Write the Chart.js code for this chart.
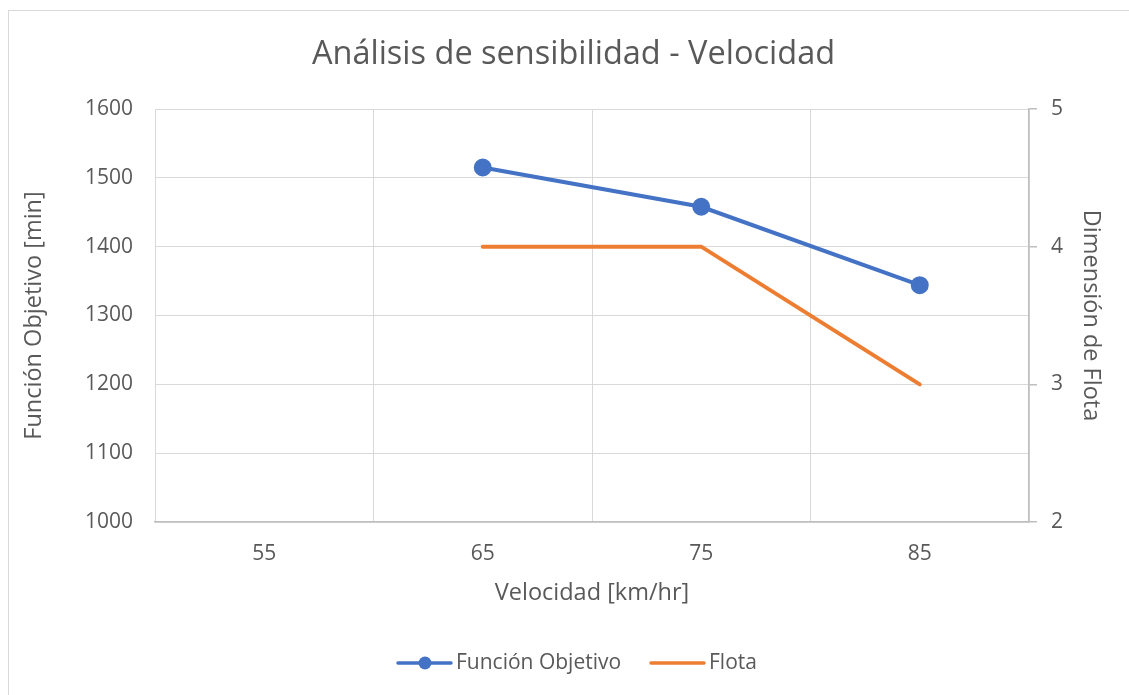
<!DOCTYPE html>
<html>
<head>
<meta charset="utf-8">
<script src="https://cdn.jsdelivr.net/npm/chart.js@4/dist/chart.umd.min.js"></script>
<style>
  html, body { margin: 0; padding: 0; background: #ffffff; }
  #wrap { width: 1129px; height: 695px; position: relative; }
</style>
</head>
<body>
<div id="wrap"><canvas id="c" width="1129" height="695"></canvas></div>
<script>
const categories = ['55', '65', '75', '85'];
const funcionObjetivo = [null, 1515, 1458, 1344];
const flota = [null, 4, 4, 3];
const leftTicks = [1000, 1100, 1200, 1300, 1400, 1500, 1600];
const rightTicks = [2, 3, 4, 5];

const FONT = '"Open Sans", "Noto Sans", sans-serif';
const TXT = '#595959';
const GRID = '#d9d9d9';
const AXIS = '#bfbfbf';
const BLUE = '#4472c4';
const ORANGE = '#ed7d31';

const frame = {
  id: 'frame',
  beforeDraw(chart) {
    const ctx = chart.ctx;
    ctx.save();
    ctx.fillStyle = '#fff';
    ctx.fillRect(0, 0, chart.width, chart.height);
    ctx.strokeStyle = GRID;
    ctx.lineWidth = 1;
    ctx.strokeRect(8.5, 10.5, chart.width + 20, chart.height + 20);
    ctx.restore();
  }
};

const legendPlugin = {
  id: 'customLegend',
  afterDraw(chart) {
    const ctx = chart.ctx;
    const y = 663;
    ctx.save();
    ctx.font = '21px ' + FONT;
    ctx.textBaseline = 'middle';
    const items = [
      { ds: chart.data.datasets[0], x: 398, marker: true },
      { ds: chart.data.datasets[1], x: 651, marker: false }
    ];
    items.forEach(it => {
      ctx.strokeStyle = it.ds.borderColor;
      ctx.lineWidth = 3.5;
      ctx.lineCap = 'round';
      ctx.beginPath();
      ctx.moveTo(it.x, y);
      ctx.lineTo(it.x + 53, y);
      ctx.stroke();
      if (it.marker) {
        ctx.fillStyle = it.ds.pointBackgroundColor;
        ctx.beginPath();
        ctx.arc(it.x + 27, y, 6.5, 0, Math.PI * 2);
        ctx.fill();
      }
      ctx.fillStyle = TXT;
      ctx.fillText(it.ds.label, it.x + 58, y);
    });
    ctx.restore();
  }
};

const tickFmt = v => String(v);

new Chart(document.getElementById('c'), {
  type: 'line',
  data: {
    labels: categories,
    datasets: [
      {
        label: 'Función Objetivo',
        data: funcionObjetivo,
        yAxisID: 'y',
        borderColor: BLUE,
        backgroundColor: BLUE,
        pointBackgroundColor: BLUE,
        pointBorderColor: BLUE,
        borderWidth: 4,
        pointRadius: 7,
        pointHoverRadius: 7,
        tension: 0,
        order: 1
      },
      {
        label: 'Flota',
        data: flota,
        yAxisID: 'y1',
        borderColor: ORANGE,
        backgroundColor: ORANGE,
        borderWidth: 4,
        pointRadius: 0,
        tension: 0,
        borderCapStyle: 'round',
        order: 2
      }
    ]
  },
  options: {
    responsive: false,
    animation: false,
    devicePixelRatio: 1,
    layout: { padding: { left: 18, right: 0, top: 0, bottom: 0 } },
    plugins: {
      legend: { display: false },
      tooltip: { enabled: false },
      title: {
        display: true,
        text: 'Análisis de sensibilidad - Velocidad',
        color: TXT,
        font: { family: FONT, size: 32.5, weight: 'normal' },
        padding: { top: 35.5, bottom: 34.5 }
      }
    },
    scales: {
      x: {
        offset: true,
        grid: { color: GRID, offset: true, drawTicks: false, lineWidth: 1 },
        border: { display: true, color: AXIS, width: 1.5 },
        ticks: { color: TXT, font: { family: FONT, size: 21 }, padding: 19, maxRotation: 0 },
        title: {
          display: true,
          text: 'Velocidad [km/hr]',
          color: TXT,
          font: { family: FONT, size: 23.5 },
          padding: { top: 0, bottom: 88 }
        },
        afterFit(s) { s.height = 173; }
      },
      y: {
        position: 'left',
        min: 1000,
        max: 1600,
        afterBuildTicks(s) { s.ticks = leftTicks.map(v => ({ value: v })); },
        grid: { color: GRID, drawTicks: false, lineWidth: 1 },
        border: { display: false },
        ticks: { color: TXT, font: { family: FONT, size: 21 }, padding: 22, callback: tickFmt },
        title: {
          display: true,
          text: 'Función Objetivo [min]',
          color: TXT,
          font: { family: FONT, size: 23.5 },
          padding: { top: 2, bottom: 0 }
        },
        afterFit(s) { s.width = 137; }
      },
      y1: {
        position: 'right',
        min: 2,
        max: 5,
        afterBuildTicks(s) { s.ticks = rightTicks.map(v => ({ value: v })); },
        grid: { drawOnChartArea: false, drawTicks: true, tickLength: 8, color: AXIS, lineWidth: 1.5 },
        border: { display: true, color: AXIS, width: 1.5 },
        ticks: { color: TXT, font: { family: FONT, size: 21 }, padding: 14, callback: tickFmt },
        title: {
          display: true,
          text: 'Dimensión de Flota',
          color: TXT,
          font: { family: FONT, size: 23.5 },
          padding: { top: 24, bottom: 0 }
        },
        afterFit(s) { s.width = 100; }
      }
    }
  },
  plugins: [frame, legendPlugin]
});
</script>
</body>
</html>
